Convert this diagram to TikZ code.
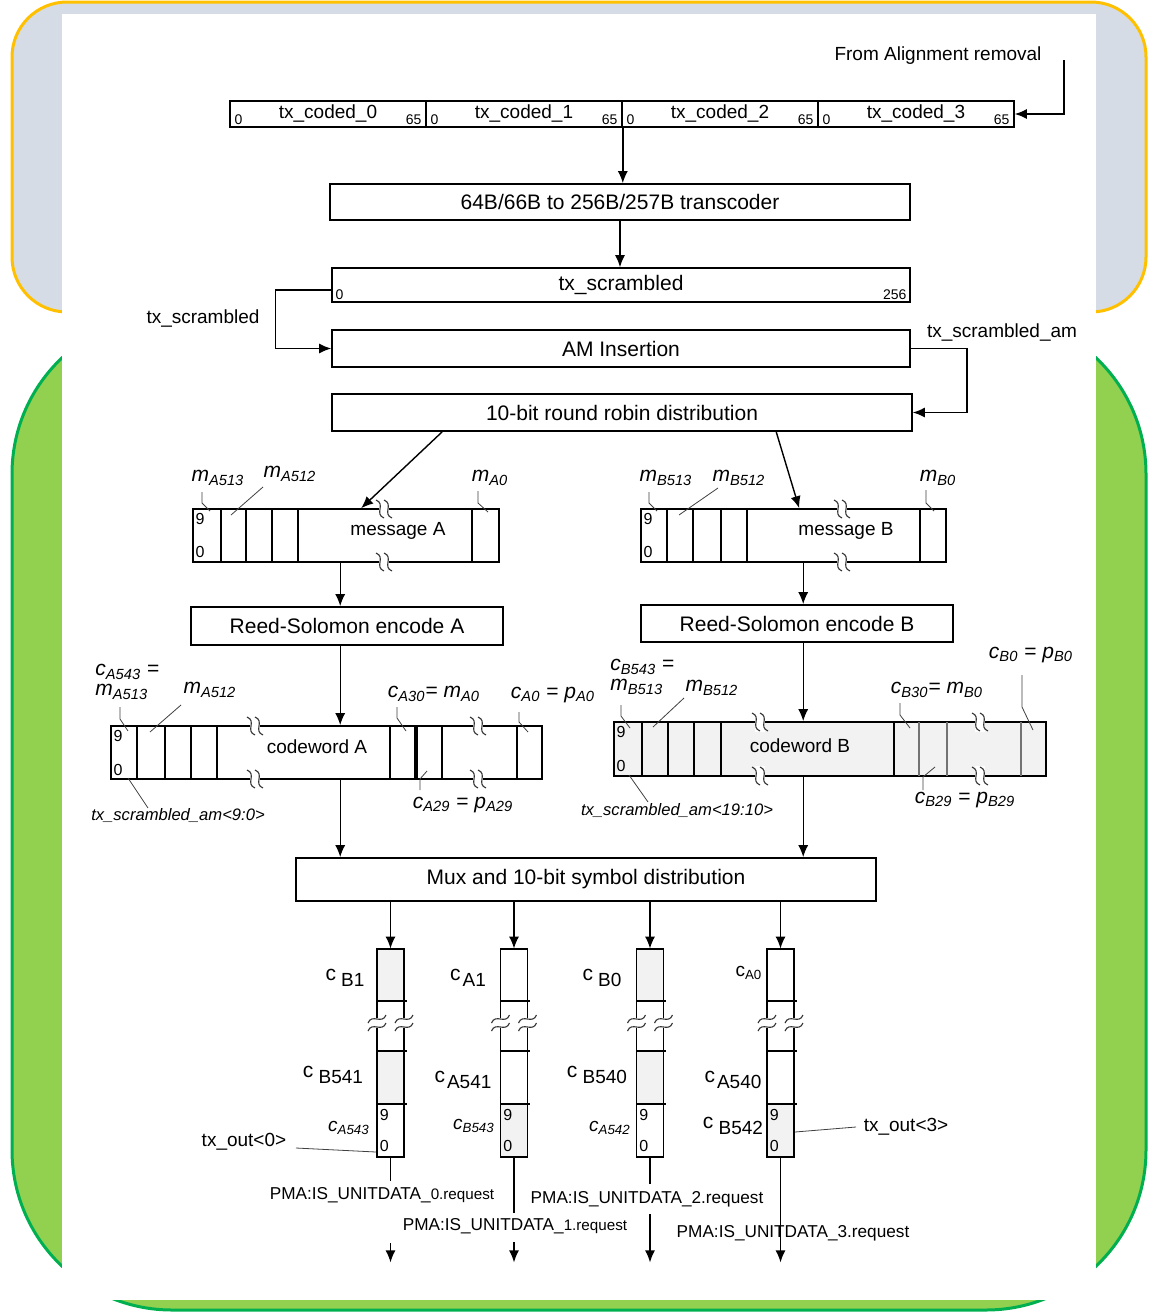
\documentclass[tikz,border=0pt]{standalone}
\usepackage{fontspec}
\setmainfont{Liberation Sans}
\usetikzlibrary{arrows.meta,calc}

\definecolor{panelblue}{HTML}{D6DCE5}
\definecolor{panelorange}{HTML}{FFC000}
\definecolor{panelgreen}{HTML}{92D050}
\definecolor{paneldkgreen}{HTML}{00B050}
\definecolor{cellgray}{HTML}{F2F2F2}

\newcommand\boxf{\fontsize{10.5}{12}\selectfont}
\newcommand\lblf{\fontsize{9.5}{11}\selectfont}
\newcommand\pmaf{\fontsize{8.6}{10}\selectfont}
\newcommand\tinyf{\fontsize{7}{8}\selectfont}
\newcommand\digf{\fontsize{8}{9}\selectfont}
\newcommand\symf{\fontsize{10.5}{12}\selectfont}
\newcommand\isym[2]{\textit{#1\textsubscript{#2}}}
\newcommand\usym[2]{#1\kern1pt\raisebox{-0.6ex}{\fontsize{9.5}{10}\selectfont #2}}

\tikzset{
  blk/.style={draw, line width=0.8pt, inner sep=0pt, font=\boxf},
  wire/.style={line width=0.7pt},
  arr/.style={wire, -{Latex[length=6pt,width=5pt]}},
  leader/.style={line width=0.4pt, black!75},
  txt/.style={inner sep=0pt, font=\lblf},
  bits/.style={inner sep=0pt, font=\tinyf},
  brk/.pic={
    \fill[white] (-5,-10) rectangle (5,10);
    \draw[line width=0.55pt, black!80] (-8,-9) .. controls (2,-5) and (-10,5) .. (0,9);
    \draw[line width=0.55pt, black!80] (0,-9) .. controls (10,-5) and (-2,5) .. (8,9);
  }
}

\begin{document}
\begin{tikzpicture}[x=0.5pt,y=-0.5pt]
\useasboundingbox (0,0) rectangle (1152,1312);

% background panels
\draw[fill=panelblue, draw=panelorange, line width=1.5pt, rounded corners=27.5pt] (12,2) rectangle (1146,312);
\draw[fill=panelgreen, draw=paneldkgreen, line width=1.5pt, rounded corners=80pt] (12,314) rectangle (1146,1310);
\fill[white] (62,14) rectangle (1096,1300);

% input blocks
\node[txt] (fromtxt) at (938,56) {From Alignment removal};
\foreach \i/\cx in {0/328,1/524,2/720,3/916}{
  \node[blk, font=\lblf, minimum width=98pt, minimum height=13pt] (c\i) at (\cx,114) {tx\_coded\_\i};
  \node[bits, anchor=south west] at ($(c\i.south west)+(5,-3)$) {0};
  \node[bits, anchor=south east] at ($(c\i.south east)+(-5,-3)$) {65};
}
\coordinate (feed) at (1064,60);
\draw[arr] (feed) |- (c3.east);

% transcoder, scrambler, AM insertion
\node[blk, minimum width=290pt, minimum height=18pt] (trans) at (620,202) {64B/66B to 256B/257B transcoder};
\draw[arr] (c1.south east) -- (c1.south east |- trans.north);
\node[blk, minimum width=289pt, minimum height=17pt] (scram) at (621,285) {tx\_scrambled};
\node[bits, anchor=south west] at ($(scram.south west)+(4,-3)$) {0};
\node[bits, anchor=south east] at ($(scram.south east)+(-4,-3)$) {256};
\draw[arr] (trans.south) -- (trans.south |- scram.north);
\node[blk, minimum width=289pt, minimum height=18.5pt] (amins) at (621,348.5) {AM Insertion};
\draw[arr] ($(scram.west)+(0,5)$) -- ++(-56,0) |- (amins.west);
\node[txt] (scrlbl) at (203,318) {tx\_scrambled};
\node[blk, minimum width=290pt, minimum height=18.5pt] (rrobin) at (622,412.5) {10-bit round robin distribution};
\draw[arr] (amins.east) -- ++(56,0) |- (rrobin.east);
\node[txt] (amlbl) at (1002,332) {tx\_scrambled\_am};

% message A
\node[blk, minimum width=153pt, minimum height=26.5pt] (msgA) at (346,535.5) {};
\node[txt] at (398,531) {message A};
\foreach \dx in {221,246,272,298,472} \draw[line width=0.8pt] (\dx,509) -- (\dx,562);
\node[bits, font=\digf] at (200,519) {9};
\node[bits, font=\digf] at (200,552) {0};
\pic at (384,509) {brk};
\pic at (384,562) {brk};
\node[txt, font=\symf] (mA513) at (218,478) {\isym{m}{A513}};
\node[txt, font=\symf] (mA512) at (290,474) {\isym{m}{A512}};
\node[txt, font=\symf] (mA0) at (490,478) {\isym{m}{A0}};
\draw[leader] (202,492) -- (202,503) -- (210,511);
\draw[leader] (263,487) -- (231,515);
\draw[leader] (478,491) -- (478,503) -- (488,512);

% message B
\node[blk, minimum width=152.5pt, minimum height=26.5pt] (msgB) at (793.5,535.5) {};
\node[txt] at (846,531) {message B};
\foreach \dx in {667,693,721,747,920} \draw[line width=0.8pt] (\dx,509) -- (\dx,562);
\node[bits, font=\digf] at (648,519) {9};
\node[bits, font=\digf] at (648,552) {0};
\pic at (842,509) {brk};
\pic at (842,562) {brk};
\node[txt, font=\symf] (mB513) at (666,478) {\isym{m}{B513}};
\node[txt, font=\symf] (mB512) at (739,478) {\isym{m}{B512}};
\node[txt, font=\symf] (mB0) at (938,478) {\isym{m}{B0}};
\draw[leader] (649,492) -- (649,503) -- (657,511);
\draw[leader] (718,488) -- (679,515);
\draw[leader] (926,490) -- (926,503) -- (934,511);

\draw[arr] ($(rrobin.south west)+(111,0)$) -- ($(msgA.north west)+(169,0)$);
\draw[arr] ($(rrobin.south west)+(445,0)$) -- ($(msgB.north west)+(159,0)$);

% Reed-Solomon encoders
\node[blk, minimum width=156pt, minimum height=19pt] (rsA) at (347,626) {Reed-Solomon encode A};
\node[blk, minimum width=156pt, minimum height=18.5pt] (rsB) at (797,623.5) {Reed-Solomon encode B};
\coordinate (a1) at ($(msgA.south west)+(148,0)$);
\draw[arr] (a1) -- (a1 |- rsA.north);
\coordinate (b1) at ($(msgB.south west)+(163,0)$);
\draw[arr] (b1) -- (b1 |- rsB.north);

% codeword A
\node[blk, minimum width=215.5pt, minimum height=26.5pt] (cwA) at (326.5,752.5) {};
\node[txt] at (317,747) {codeword A};
\foreach \dx in {137,165,191,217,390,442,517} \draw[line width=0.8pt] (\dx,726) -- (\dx,779);
\draw[line width=1.6pt] (416,726) -- (416,779);
\node[bits, font=\digf] at (118,736) {9};
\node[bits, font=\digf] at (118,770) {0};
\pic at (255,726) {brk};
\pic at (255,779) {brk};
\pic at (478,726) {brk};
\pic at (478,779) {brk};
\node[txt, font=\symf, align=left, anchor=west] (cA543) at (95,682) {\isym{c}{A543} =\\[-2pt]\isym{m}{A513}};
\node[txt, font=\symf] (cmA512) at (210,690) {\isym{m}{A512}};
\node[txt, font=\symf] (cA30) at (434,694) {\isym{c}{A30}= \isym{m}{A0}};
\node[txt, font=\symf] (cA0) at (553,695) {\isym{c}{A0} = \isym{p}{A0}};
\node[txt, font=\symf] (cA29) at (463,805) {\isym{c}{A29} = \isym{p}{A29}};
\node[txt, font=\fontsize{8.3}{10}\selectfont\itshape] (amA) at (178,815) {tx\_scrambled\_am<9:0>};
\draw[leader] (120,707) -- (120,719) -- (128,731);
\draw[leader] (181,705) -- (150,732);
\draw[leader] (397,707) -- (397,718) -- (406,731);
\draw[leader] (519,712) -- (519,722) -- (528,732);
\draw[leader] (427,771) -- (420,779) -- (420,790);
\draw[leader] (128,778) -- (148,808);

% codeword B
\node[blk, fill=cellgray, minimum width=216pt, minimum height=27pt] (cwB) at (830,749) {};
\node[txt] at (800,746) {codeword B};
\foreach \dx in {642,668,694,721,894} \draw[line width=0.8pt] (\dx,722) -- (\dx,776);
\foreach \dx in {919,947,1021} \draw[line width=1.4pt, black!55] (\dx,722) -- (\dx,776);
\node[bits, font=\digf] at (621,732) {9};
\node[bits, font=\digf] at (621,766) {0};
\pic at (760,722) {brk};
\pic at (760,776) {brk};
\pic at (980,722) {brk};
\pic at (980,776) {brk};
\node[txt, font=\symf, align=left, anchor=west] (cB543) at (610,677) {\isym{c}{B543} =\\[-2pt]\isym{m}{B513}};
\node[txt, font=\symf] (cmB512) at (712,688) {\isym{m}{B512}};
\node[txt, font=\symf] (cB30) at (937,690) {\isym{c}{B30}= \isym{m}{B0}};
\node[txt, font=\symf] (cB0) at (1031,655) {\isym{c}{B0} = \isym{p}{B0}};
\node[txt, font=\symf] (cB29) at (965,800) {\isym{c}{B29} = \isym{p}{B29}};
\node[txt, font=\fontsize{8.3}{10}\selectfont\itshape] (amB) at (677,810) {tx\_scrambled\_am<19:10>};
\draw[leader] (621,705) -- (621,716) -- (630,728);
\draw[leader] (684,698) -- (653,727);
\draw[leader] (900,703) -- (900,715) -- (910,728);
\draw[leader] (1022,675) -- (1022,707) -- (1033,730);
\draw[leader] (935,767) -- (923,777) -- (923,790);
\draw[leader] (629,775) -- (648,802);

\coordinate (a2) at ($(rsA.south west)+(150,0)$);
\draw[arr] (a2) -- (a2 |- cwA.north);
\coordinate (b2) at ($(rsB.south west)+(163,0)$);
\draw[arr] (b2) -- (b2 |- cwB.north);

% mux
\node[blk, minimum width=290pt, minimum height=21.5pt] (mux) at (586,879.5) {Mux and 10-bit symbol distribution};
\coordinate (a3) at ($(cwA.south west)+(230,0)$);
\draw[arr] (a3) -- (a3 |- mux.north);
\coordinate (b3) at ($(cwB.south west)+(190,0)$);
\draw[arr] (b3) -- (b3 |- mux.north);

% output columns
\foreach \n/\cx/\ta/\tb in {1/390.5/cellgray/white, 2/514/white/cellgray, 3/650/cellgray/white, 4/780.5/white/cellgray}{
  \node[minimum width=13.5pt, minimum height=104pt, inner sep=0pt] (col\n) at (\cx,1053) {};
  \filldraw[fill=\ta, line width=0.8pt] (\cx-13.5,949) rectangle (\cx+13.5,1001);
  \draw[line width=0.8pt] (\cx-13.5,1001) -- (\cx-13.5,1051) (\cx+13.5,1001) -- (\cx+13.5,1051);
  \draw[line width=0.8pt] (\cx-13.5,1001) -- (\cx+16,1001);
  \filldraw[fill=\ta, line width=0.8pt] (\cx-13.5,1051) rectangle (\cx+13.5,1104);
  \filldraw[fill=\tb, line width=0.8pt] (\cx-13.5,1104) rectangle (\cx+13.5,1157);
  \draw[line width=0.8pt] (\cx+13.5,1051) -- (\cx+16,1051) (\cx+13.5,1104) -- (\cx+16,1104);
  \pic[rotate=90] at (\cx-13.5,1023) {brk};
  \pic[rotate=90] at (\cx+13.5,1023) {brk};
  \node[bits, font=\digf, anchor=west] at (\cx-11,1115) {9};
  \node[bits, font=\digf, anchor=west] at (\cx-11,1146) {0};
  \draw[arr] (col\n.north |- mux.south) -- (col\n.north);
}

\node[txt, font=\symf] (lB1) at (345,978) {\usym{c}{\,B1}};
\node[txt, font=\symf] (lB541) at (333,1075) {\usym{c}{\,B541}};
\node[txt, font=\lblf] (lA543) at (349,1128) {\isym{c}{A543}};
\node[txt, font=\symf] (lA1) at (468,978) {\usym{c}{A1}};
\node[txt, font=\symf] (lA541) at (463,1080) {\usym{c}{A541}};
\node[txt, font=\lblf] (lB543) at (474,1126) {\isym{c}{B543}};
\node[txt, font=\symf] (lB0) at (602,978) {\usym{c}{\,B0}};
\node[txt, font=\symf] (lB540) at (597,1075) {\usym{c}{\,B540}};
\node[txt, font=\lblf] (lA542) at (610,1128) {\isym{c}{A542}};
\node[txt, font=\lblf] (lA0) at (749,973) {c\textsubscript{A0}};
\node[txt, font=\symf] (lA540) at (733,1080) {\usym{c}{A540}};
\node[txt, font=\symf] (lB542) at (733,1126) {\usym{c}{\,B542}};

\node[txt] (out0) at (244,1142) {tx\_out<0>};
\draw[leader] (296,1148) -- (376,1152);
\node[txt] (out3) at (906,1127) {tx\_out<3>};
\draw[leader] (856,1127) -- (795,1132);

% PMA service interface
\draw[wire] (col1.south) -- ++(0,24);
\node[txt, font=\pmaf] (pma0) at (382,1195) {PMA:IS\_UNITDATA\_{\fontsize{7.6}{9}\selectfont 0.request}};
\draw[arr] ($(col1.south)+(0,86)$) -- ++(0,19);
\draw[wire] (col2.south) -- ++(0,56);
\node[txt, font=\pmaf] (pma1) at (515,1226) {PMA:IS\_UNITDATA\_{\fontsize{7.6}{9}\selectfont 1.request}};
\draw[arr] ($(col2.south)+(0,85)$) -- ++(0,20);
\draw[wire] (col3.south) -- ++(0,27);
\node[txt, font=\pmaf] (pma2) at (647,1199) {PMA:IS\_UNITDATA\_2.request};
\draw[arr] ($(col3.south)+(0,57)$) -- ++(0,48);
\draw[arr] (col4.south) -- ++(0,105);
\node[txt, font=\pmaf] (pma3) at (793,1233) {PMA:IS\_UNITDATA\_3.request};
\end{tikzpicture}
\end{document}
